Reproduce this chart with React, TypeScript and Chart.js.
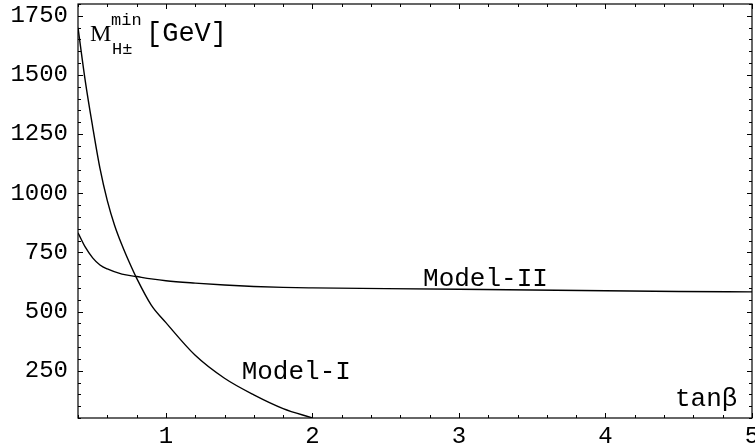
import { useEffect, useRef } from "react";
import { Chart, registerables } from "chart.js";
Chart.register(...registerables);

// tan(beta) samples and minimal charged-Higgs mass [GeV]
const modelIX = [0.4, 0.45, 0.5, 0.55, 0.6, 0.65, 0.7, 0.75, 0.8, 0.9, 1.0, 1.2, 1.4, 1.6, 1.8, 2.0];
const modelIY = [1700, 1473, 1281, 1105, 969, 864, 781, 708, 641, 527, 453, 315, 218, 148, 90, 50];

const modelIIX = [0.4, 0.45, 0.5, 0.55, 0.6, 0.7, 0.8, 0.9, 1.0, 1.2, 1.4, 1.6, 1.8, 2.0, 2.5, 3, 3.5, 4, 4.5, 5];
const modelIIY = [833, 772, 727, 697, 680, 658, 648, 638, 630, 620, 612, 606, 602, 600, 597, 594, 591, 588, 585, 583];

const xTicks = [1, 2, 3, 4, 5];
const yTicks = [250, 500, 750, 1000, 1250, 1500, 1750];

const MONO = "'Liberation Mono', 'Courier New', monospace";

export default function App() {
  const ref = useRef<HTMLCanvasElement>(null);

  useEffect(() => {
    document.body.style.margin = "0";
    const framePlugin = {
      id: "frame",
      afterDraw(chart: any) {
        const { ctx, chartArea: a, scales } = chart;
        const x = scales.x;
        const y = scales.y;
        ctx.save();
        ctx.strokeStyle = "#000";
        ctx.lineWidth = 1.2;
        ctx.strokeRect(a.left, a.top, a.right - a.left, a.bottom - a.top);
        ctx.lineWidth = 1;
        ctx.beginPath();
        for (let i = 2; i <= 25; i++) {
          const v = i * 0.2;
          const px = Math.round(x.getPixelForValue(v)) + 0.5;
          const len = i % 5 === 0 ? 5 : 3;
          ctx.moveTo(px, a.bottom);
          ctx.lineTo(px, a.bottom - len);
          ctx.moveTo(px, a.top);
          ctx.lineTo(px, a.top + len);
        }
        for (let i = 1; i <= 36; i++) {
          const v = i * 50;
          if (v < y.min || v > y.max) continue;
          const py = Math.round(y.getPixelForValue(v)) + 0.5;
          const len = i % 5 === 0 ? 5 : 3;
          ctx.moveTo(a.left, py);
          ctx.lineTo(a.left + len, py);
          ctx.moveTo(a.right, py);
          ctx.lineTo(a.right - len, py);
        }
        ctx.stroke();

        ctx.fillStyle = "#000";
        ctx.textBaseline = "alphabetic";
        ctx.textAlign = "left";
        const tx = x.getPixelForValue(0.482);
        const ty = y.getPixelForValue(1643);
        ctx.font = "24px 'Liberation Serif', serif";
        ctx.fillText("M", tx, ty);
        ctx.font = `17px ${MONO}`;
        ctx.fillText("min", tx + 21, ty - 16);
        ctx.fillText("H\u00b1", tx + 22, ty + 13);
        ctx.font = `27px ${MONO}`;
        ctx.fillText("[GeV]", tx + 56, ty);

        ctx.font = `26px ${MONO}`;
        ctx.fillText("Model-II", x.getPixelForValue(2.755), y.getPixelForValue(609));
        ctx.fillText("Model-I", x.getPixelForValue(1.517), y.getPixelForValue(214));

        ctx.textAlign = "right";
        ctx.fillText("tan\u03b2", x.getPixelForValue(4.9), y.getPixelForValue(101));
        ctx.restore();
      },
    };

    const chart = new Chart(ref.current as HTMLCanvasElement, {
      type: "line",
      data: {
        datasets: [
          {
            label: "Model-I",
            data: modelIX.map((v, i) => ({ x: v, y: modelIY[i] })),
            borderColor: "#000",
            borderWidth: 1.4,
            pointRadius: 0,
            cubicInterpolationMode: "monotone",
            fill: false,
          },
          {
            label: "Model-II",
            data: modelIIX.map((v, i) => ({ x: v, y: modelIIY[i] })),
            borderColor: "#000",
            borderWidth: 1.4,
            pointRadius: 0,
            cubicInterpolationMode: "monotone",
            fill: false,
          },
        ],
      },
      options: {
        animation: false,
        responsive: false,
        devicePixelRatio: 1,
        layout: { padding: { top: 4, right: 3, left: 0, bottom: 0 } },
        plugins: { legend: { display: false }, tooltip: { enabled: false } },
        scales: {
          x: {
            type: "linear",
            min: 0.4,
            max: 5,
            grid: { display: false, drawTicks: false },
            border: { display: false },
            afterBuildTicks: (s: any) => {
              s.ticks = xTicks.map((v) => ({ value: v }));
            },
            afterFit: (s: any) => {
              s.height = 29;
              s.paddingLeft = 0;
              s.paddingRight = 0;
            },
            ticks: {
              color: "#000",
              font: { family: MONO, size: 24 },
              padding: 4,
              maxRotation: 0,
              autoSkip: false,
              callback: (v: any) => String(v),
            },
          },
          y: {
            type: "linear",
            min: 50,
            max: 1800,
            grid: { display: false, drawTicks: false },
            border: { display: false },
            afterBuildTicks: (s: any) => {
              s.ticks = yTicks.map((v) => ({ value: v }));
            },
            afterFit: (s: any) => {
              s.width = 78;
              s.paddingTop = 0;
              s.paddingBottom = 0;
            },
            ticks: {
              color: "#000",
              font: { family: MONO, size: 24 },
              padding: 10,
              autoSkip: false,
              callback: (v: any) => String(v),
            },
          },
        },
      },
      plugins: [framePlugin],
    });
    return () => chart.destroy();
  }, []);

  return (
    <div style={{ position: "fixed", left: 0, top: 0, width: 755, height: 447, background: "#fff" }}>
      <canvas ref={ref} width={755} height={447} style={{ display: "block" }} />
    </div>
  );
}
